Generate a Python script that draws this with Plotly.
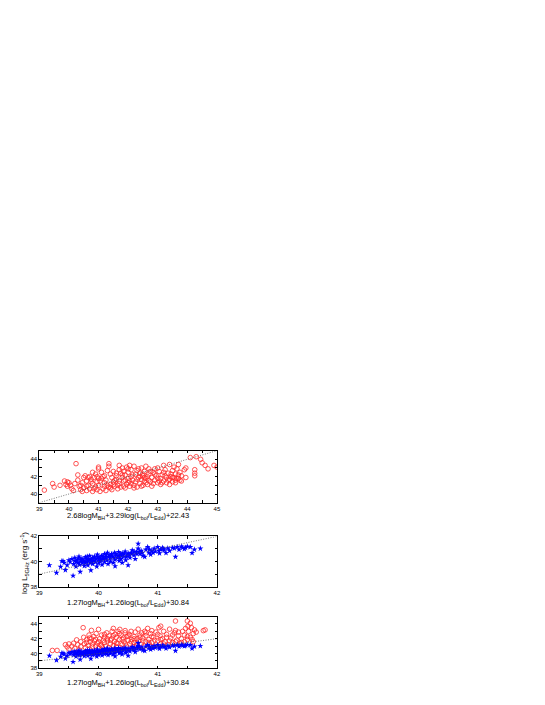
"""
Three-panel radio luminosity comparison (red circles / blue stars).
"""

import plotly.graph_objects as go

# ── Data ──────────────────────────────────────────────────────────────────────

# panel 1: 2.68logM_BH+3.29log(Lbol/LEdd)+22.43 vs log L (red circles)
red1_x = [
    39.17, 39.45, 39.50, 39.70, 39.85, 39.95, 39.95, 40.00, 39.90,
    40.05, 40.10, 40.15, 40.20, 40.24, 40.30, 40.30, 40.35, 40.40, 40.45, 40.45, 40.50, 40.50,
    40.55, 40.60, 40.60, 40.65, 40.70, 40.70, 40.75, 40.80, 40.80, 40.85, 40.90, 40.90, 40.95, 40.95, 41.00, 41.00, 41.00,
    41.05, 41.10, 41.10, 41.15, 41.20, 41.20, 41.25, 41.25, 41.30, 41.35, 41.35, 41.35, 41.40, 41.40, 41.45, 41.45, 41.50, 41.50,
    41.55, 41.60, 41.60, 41.65, 41.70, 41.70, 41.70, 41.75, 41.75, 41.80, 41.80, 41.85, 41.85, 41.90, 41.90, 41.95, 41.95, 42.00, 42.00, 42.00,
    42.05, 42.05, 42.10, 42.10, 42.15, 42.20, 42.20, 42.25, 42.25, 42.30, 42.30, 42.35, 42.40, 42.40, 42.45, 42.45, 42.50, 42.50,
    42.55, 42.55, 42.60, 42.60, 42.65, 42.70, 42.70, 42.75, 42.80, 42.80, 42.85, 42.90, 42.90, 42.95, 43.00, 43.00,
    43.05, 43.10, 43.10, 43.15, 43.20, 43.20, 43.25, 43.30, 43.30, 43.35, 43.40, 43.40, 43.45, 43.50, 43.50,
    43.55, 43.55, 43.60, 43.60, 43.65, 43.70, 43.70, 43.75, 43.80, 43.80, 43.90, 43.95, 43.95,
    44.10, 44.25, 44.25, 44.25, 44.30, 44.45, 44.50, 44.60, 44.70, 44.90, 45.00,
    40.40, 40.60, 40.75, 40.85, 41.05, 41.15, 41.30, 41.40, 41.55, 41.60, 41.65, 41.80, 41.85,
    41.90, 42.00, 42.05, 42.15, 42.20, 42.30, 42.35, 42.45, 42.50, 42.60, 42.65, 42.75, 42.85,
    42.90, 43.00, 43.05, 43.15, 43.25, 43.35, 43.45, 43.50, 43.60, 43.65, 43.70, 43.75, 41.00,
    40.95, 41.20, 41.50, 41.70, 42.10, 42.40, 42.55, 42.70, 43.20, 43.40, 40.65, 40.80,
]
red1_y = [
    40.45, 41.20, 40.80, 41.00, 41.50, 41.40, 40.90, 41.30, 41.10,
    41.00, 40.60, 40.40, 41.20, 43.50, 42.20, 41.60, 40.90, 40.50, 41.30, 40.30, 41.90, 40.70,
    42.10, 41.50, 40.40, 41.00, 42.00, 40.60, 41.70, 41.20, 40.30, 41.90, 40.80, 42.30, 41.40, 40.50, 43.10, 42.90, 41.00,
    40.30, 41.80, 42.50, 40.60, 41.30, 42.10, 40.40, 41.60, 42.70, 43.50, 43.20, 40.80, 42.30, 41.10, 41.90, 40.50, 42.60, 41.40,
    40.90, 42.10, 41.70, 40.60, 43.30, 42.80, 41.20, 42.40, 40.80, 43.00, 41.90, 41.50, 42.60, 40.70, 42.20, 41.10, 43.10, 41.80, 42.50, 41.30,
    43.30, 40.90, 42.00, 42.80, 41.60, 43.20, 41.00, 42.30, 41.40, 42.70, 40.80, 41.90, 42.40, 41.20, 43.00, 41.70, 42.10, 41.00,
    42.60, 41.50, 43.20, 41.80, 41.10, 42.30, 42.90, 41.40, 41.90, 40.90, 42.50, 42.90, 41.60, 42.10, 43.00, 41.30,
    42.60, 41.80, 41.10, 42.20, 43.30, 41.50, 42.80, 41.90, 41.30, 42.40, 43.40, 41.70, 42.00, 41.40, 42.70,
    43.10, 41.90, 42.30, 41.60, 42.90, 43.40, 41.80, 42.50, 41.50, 42.10, 42.80, 43.00, 41.90,
    44.20, 42.80, 42.40, 42.10, 44.30, 44.00, 43.60, 43.30, 42.90, 43.30, 43.10,
    41.00, 40.90, 41.40, 40.60, 41.50, 42.00, 41.00, 40.70, 41.60, 42.40, 41.00, 42.20, 40.90,
    41.60, 42.90, 41.50, 42.20, 40.70, 41.70, 42.90, 40.90, 42.30, 41.30, 42.00, 42.60, 41.20,
    42.30, 41.80, 41.50, 41.30, 42.10, 41.60, 42.30, 41.90, 41.30, 41.80, 42.20, 41.60, 41.80,
    42.00, 40.90, 41.10, 41.50, 41.20, 42.00, 41.90, 41.60, 42.50, 41.10, 41.90, 42.50,
]

# panel 2 (and 3): 1.27logM_BH+1.26log(Lbol/LEdd)+30.84 vs log L_5GHz (blue stars)
blue_x = [
    39.17, 39.29, 39.36, 39.38, 39.40, 39.42, 39.44, 39.47, 39.50,
    39.52, 39.55, 39.57, 39.58, 39.60, 39.60, 39.62, 39.64, 39.65, 39.67, 39.68, 39.69, 39.70,
    39.72, 39.73, 39.75, 39.76, 39.78, 39.80, 39.80, 39.82, 39.83, 39.85, 39.86, 39.87, 39.88, 39.90, 39.90,
    39.92, 39.93, 39.95, 39.96, 39.97, 39.98, 40.00, 40.00, 40.02, 40.03, 40.05, 40.06, 40.08, 40.10, 40.10,
    40.12, 40.14, 40.15, 40.16, 40.18, 40.20, 40.20, 40.22, 40.24, 40.25, 40.27, 40.28, 40.28, 40.30,
    40.32, 40.34, 40.35, 40.37, 40.38, 40.40, 40.40, 40.42, 40.45, 40.46, 40.48, 40.50, 40.50,
    40.53, 40.55, 40.57, 40.60, 40.62, 40.64, 40.67, 40.67, 40.70, 40.72, 40.75, 40.78, 40.80,
    40.83, 40.85, 40.88, 40.90, 40.94, 40.96, 41.00, 41.03, 41.05, 41.08, 41.11, 41.14, 41.17, 41.20,
    41.25, 41.30, 41.33, 41.36, 41.40, 41.42, 41.45, 41.50, 41.55, 41.58, 41.62, 41.72,
    39.62, 39.66, 39.70, 39.74, 39.78, 39.81, 39.84, 39.89, 39.94, 39.99, 40.04, 40.07,
    40.11, 40.13, 40.17, 40.21, 40.26, 40.29, 40.33, 40.36, 40.39, 40.43, 40.47, 40.52,
    40.56, 40.60, 40.65, 40.69, 40.74, 40.86, 40.92, 41.02, 41.10, 41.28, 41.47,
]
blue_y = [
    39.71, 39.10, 39.58, 40.03, 40.05, 39.90, 39.32, 39.71, 40.10,
    39.95, 40.20, 38.87, 39.80, 40.05, 40.30, 39.60, 40.15, 39.90, 40.40, 39.75, 39.18, 40.00,
    40.25, 39.85, 40.10, 39.65, 40.35, 39.95, 40.20, 39.70, 40.05, 40.45, 39.90, 39.30, 40.15, 40.30, 39.80,
    40.05, 40.40, 39.95, 40.20, 39.60, 40.55, 40.10, 39.85, 40.30, 40.00, 40.45, 39.75, 40.20, 40.60, 39.95,
    40.35, 40.10, 40.70, 39.80, 40.50, 40.25, 40.00, 40.60, 40.40, 39.90, 40.70, 39.63, 40.15, 40.50,
    40.30, 40.75, 40.05, 40.55, 40.20, 40.65, 39.90, 40.40, 40.80, 40.10, 40.50, 39.71, 40.65,
    40.30, 40.70, 40.90, 40.50, 40.20, 40.75, 41.03, 41.42, 40.60, 40.85, 40.45, 40.37, 40.95,
    41.16, 40.70, 40.55, 40.85, 41.03, 40.80, 41.16, 40.65, 40.95, 41.10, 40.90, 40.68, 41.05, 40.85,
    41.10, 40.37, 41.16, 40.95, 41.20, 41.10, 41.00, 41.20, 41.15, 40.68, 40.95, 41.03,
    40.00, 40.25, 40.15, 40.00, 39.90, 40.40, 40.20, 40.00, 40.25, 40.35, 40.15, 40.40,
    40.25, 40.50, 40.35, 40.45, 40.30, 40.60, 40.45, 40.35, 40.50, 40.60, 40.35, 40.50,
    40.60, 40.80, 40.60, 40.80, 40.70, 40.95, 40.70, 40.85, 41.00, 41.05, 41.10,
]

# panel 3: same abscissa combination, red circles overplotted
red3_x = [
    39.22, 39.30, 39.44, 39.47, 39.50, 39.50,
    39.55, 39.58, 39.60, 39.63, 39.65, 39.67, 39.70, 39.70,
    39.74, 39.75, 39.76, 39.78, 39.80, 39.82, 39.84, 39.85, 39.86, 39.88, 39.88, 39.90, 39.90,
    39.92, 39.93, 39.95, 39.96, 39.98, 40.00, 40.00, 40.02, 40.03, 40.05, 40.06, 40.08, 40.10, 40.10,
    40.12, 40.14, 40.15, 40.17, 40.18, 40.20, 40.22, 40.23, 40.25, 40.25, 40.27, 40.28, 40.30, 40.30,
    40.32, 40.33, 40.35, 40.36, 40.37, 40.38, 40.40, 40.42, 40.43, 40.45, 40.45, 40.47, 40.48, 40.50,
    40.52, 40.53, 40.55, 40.56, 40.58, 40.60, 40.60, 40.62, 40.64, 40.65, 40.67, 40.68, 40.70,
    40.72, 40.73, 40.75, 40.77, 40.78, 40.80, 40.80, 40.83, 40.85, 40.86, 40.88, 40.90, 40.90,
    40.93, 40.95, 40.97, 41.00, 41.02, 41.04, 41.05, 41.05, 41.08, 41.10, 41.12, 41.15, 41.18, 41.20,
    41.22, 41.25, 41.28, 41.30, 41.30, 41.32, 41.35, 41.38, 41.40, 41.42, 41.45, 41.47, 41.50,
    41.50, 41.51, 41.52, 41.55, 41.57, 41.58, 41.60, 41.62, 41.77, 41.80,
    39.80, 39.85, 39.95, 40.00, 40.05, 40.10, 40.15, 40.20, 40.25, 40.30, 40.35, 40.40, 40.45,
    40.50, 40.55, 40.60, 40.65, 40.70, 40.75, 40.80, 40.85, 40.90, 40.95, 41.00, 41.05, 41.10,
    41.15, 41.20, 41.25, 41.30, 41.35, 41.40, 41.45, 41.50, 41.55, 41.60, 41.65,
]
red3_y = [
    40.42, 40.42, 41.20, 40.90, 41.30, 40.60,
    41.00, 41.40, 40.70, 41.85, 41.20, 40.50, 40.93, 41.60,
    43.50, 42.20, 41.30, 40.80, 41.90, 41.10, 42.50, 40.60, 41.60, 43.13, 42.00, 41.30, 40.90,
    42.30, 41.70, 41.00, 42.70, 41.40, 43.27, 40.70, 42.00, 41.20, 42.50, 40.90, 41.80, 42.20, 41.50,
    41.00, 42.80, 41.70, 40.80, 42.40, 41.30, 42.00, 43.00, 43.40, 41.10, 41.60, 42.60, 40.90, 42.20,
    41.40, 43.00, 41.90, 43.27, 40.80, 42.50, 41.20, 42.10, 41.60, 43.10, 42.80, 41.00, 42.30, 41.80,
    42.60, 41.30, 43.00, 41.90, 40.90, 42.30, 41.50, 42.90, 41.10, 42.00, 43.30, 41.70, 42.50,
    41.30, 42.80, 42.10, 41.00, 43.00, 41.60, 42.40, 43.40, 41.90, 41.20, 42.70, 43.10, 41.50,
    42.20, 41.00, 42.90, 41.70, 43.50, 42.40, 41.30, 43.70, 42.00, 43.00, 41.60, 42.60, 41.20, 43.30,
    42.10, 41.50, 42.80, 43.10, 44.40, 41.80, 42.40, 41.30, 42.00, 43.00, 41.60, 43.40, 42.30,
    44.40, 43.70, 43.00, 44.10, 43.50, 41.90, 42.70, 43.20, 43.10, 43.20,
    41.50, 42.10, 41.90, 41.60, 41.10, 42.60, 42.00, 41.80, 42.40, 41.40, 42.70, 41.90, 41.30,
    42.40, 41.60, 42.00, 41.40, 42.20, 41.70, 42.80, 41.50, 42.30, 41.80, 42.60, 41.90, 41.30,
    42.20, 41.70, 42.50, 41.60, 42.90, 41.50, 42.50, 41.90, 42.20, 41.60, 42.90,
]

# y = x reference lines
line1 = [39, 45]
line2 = [39, 42]

x1_title = "2.68logM<sub>BH</sub>+3.29log(L<sub>bol</sub>/L<sub>Edd</sub>)+22.43"
x2_title = "1.27logM<sub>BH</sub>+1.26log(L<sub>bol</sub>/L<sub>Edd</sub>)+30.84"
y_title = "log L<sub>5GHz</sub> (erg s<sup>-1</sup>)"

# ── Style ─────────────────────────────────────────────────────────────────────

# page body has an 8 px margin, so work in window pixels minus 8
OFF = 8
W, H = 545 - 2 * OFF, 705 - 2 * OFF
_FONT = "Liberation Sans, Arial, sans-serif"
_RED = "#ff2a2a"
_BLUE = "#0000ff"
_LINE = "#555555"


def px_x(v):
    return (v - OFF) / W


def px_y(v):
    return 1 - (v - OFF) / H


X_DOM = [px_x(36.7), px_x(216.7)]
Y_DOMS = [
    [px_y(504.0), px_y(451.5)],
    [px_y(588.7), px_y(538.0)],
    [px_y(671.1), px_y(618.9)],
]

circle = dict(symbol="circle-open", size=4.6, color=_RED, line=dict(width=0.8, color=_RED))
star = dict(symbol="star", size=4.6, color=_BLUE, line=dict(width=0))

fig = go.Figure()


def ref_line(xs, ax):
    fig.add_trace(go.Scatter(
        x=xs, y=xs, mode="lines", xaxis=f"x{ax}", yaxis=f"y{ax}",
        line=dict(color=_LINE, width=0.8, dash="1px,1.5px"),
        showlegend=False, hoverinfo="skip",
    ))


# panel 1
fig.add_trace(go.Scatter(x=red1_x, y=red1_y, mode="markers", marker=circle,
                         xaxis="x", yaxis="y", showlegend=False))
ref_line(line1, "")

# panel 2
fig.add_trace(go.Scatter(x=blue_x, y=blue_y, mode="markers", marker=star,
                         xaxis="x2", yaxis="y2", showlegend=False))
ref_line(line2, "2")

# panel 3
fig.add_trace(go.Scatter(x=red3_x, y=red3_y, mode="markers", marker=circle,
                         xaxis="x3", yaxis="y3", showlegend=False))
fig.add_trace(go.Scatter(x=blue_x, y=blue_y, mode="markers", marker=star,
                         xaxis="x3", yaxis="y3", showlegend=False))
ref_line(line2, "3")

axis_base = dict(
    showline=True, linecolor="black", linewidth=0.8, mirror="allticks",
    ticks="inside", ticklen=2.5, tickwidth=0.6, tickcolor="black",
    showgrid=False, zeroline=False,
    tickfont=dict(size=6, color="black", family=_FONT),
)


def xaxis(rng, anchor):
    return dict(**axis_base, domain=X_DOM, range=rng, dtick=1, tick0=39,
                anchor=anchor,
                minor=dict(dtick=0.5, ticks="inside", ticklen=2.5, tickwidth=0.6,
                           tickcolor="black", showgrid=False))


def yaxis(rng, dom, anchor, tick0):
    return dict(**axis_base, domain=dom, range=rng, dtick=2, tick0=tick0,
                anchor=anchor,
                minor=dict(dtick=1, ticks="inside", ticklen=2.5, tickwidth=0.6,
                           tickcolor="black", showgrid=False))


fig.update_layout(
    width=W, height=H,
    margin=dict(l=0, r=0, t=0, b=0),
    paper_bgcolor="white", plot_bgcolor="white",
    font=dict(family=_FONT, color="black"),
    xaxis=xaxis([39, 45], "y"),
    yaxis=yaxis([39, 45], Y_DOMS[0], "x", 40),
    xaxis2=xaxis([39, 42], "y2"),
    yaxis2=yaxis([38, 42], Y_DOMS[1], "x2", 38),
    xaxis3=xaxis([39, 42], "y3"),
    yaxis3=yaxis([38, 45], Y_DOMS[2], "x3", 38),
)

# axis titles as annotations for exact placement
x_mid = (X_DOM[0] + X_DOM[1]) / 2
for text, ypx in [(x1_title, 517), (x2_title, 605), (x2_title, 686)]:
    fig.add_annotation(
        text=text, xref="paper", yref="paper",
        x=x_mid, y=px_y(ypx), xanchor="center", yanchor="middle",
        showarrow=False,
        font=dict(size=7.5, color="black", family=_FONT),
    )
fig.add_annotation(
    text=y_title, xref="paper", yref="paper",
    x=px_x(21), y=px_y(565), xanchor="center", yanchor="middle",
    textangle=-90, showarrow=False,
    font=dict(size=8, color="black", family=_FONT),
)

fig.write_html("out.html")
